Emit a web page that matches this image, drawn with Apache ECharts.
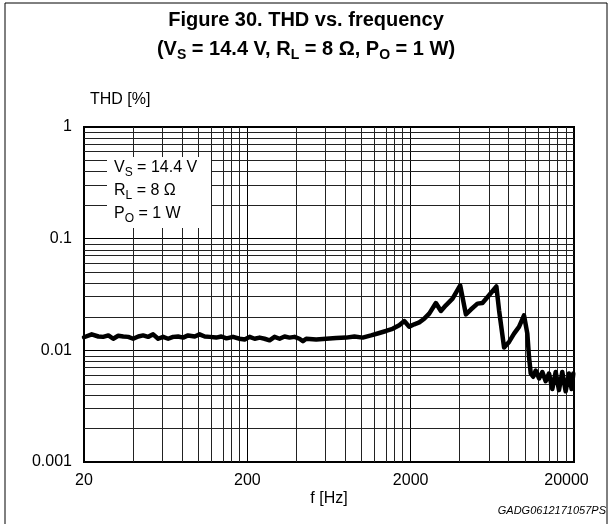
<!DOCTYPE html>
<html>
<head>
<meta charset="utf-8">
<script src="https://cdn.jsdelivr.net/npm/echarts@6/dist/echarts.min.js"></script>
<style>
html,body{margin:0;padding:0;background:#fff;}
#c{width:612px;height:524px;}
</style>
</head>
<body>
<div id="c"></div>
<script>
// ---- data ----
const freqHz = [20, 22.3, 24.5, 26.2, 28.2, 30.2, 32.4, 34.8, 37.3, 40, 43, 46, 49.4, 53, 56.9, 61, 65.5, 70.2, 75.4, 80.9, 86.7, 95.3, 102, 109.7, 117.7, 129, 138.7, 149, 163.4, 179.5, 192.6, 206.6, 221.6, 237.8, 255, 273.7, 293.6, 315, 338, 362.6, 389, 417, 438, 458.6, 528, 607.6, 699.6, 805, 905, 1017, 1144, 1286, 1413, 1550, 1703, 1828, 1960, 2104, 2258, 2422, 2598, 2854, 3063, 3286, 3609, 4021, 4356, 4672, 5130, 5502, 6040, 6697, 6955, 7464, 8005, 8590, 9210, 9885, 10360, 10610, 10870, 11250, 11650, 12220, 12800, 13420, 14060, 14730, 15450, 16180, 16950, 17780, 18620, 19340, 19800];
const thdPct = [0.0131, 0.0139, 0.0133, 0.0132, 0.0136, 0.0127, 0.0135, 0.0133, 0.0132, 0.0127, 0.0133, 0.0136, 0.0132, 0.0139, 0.0127, 0.0132, 0.0127, 0.0132, 0.0133, 0.0130, 0.0136, 0.0133, 0.0139, 0.0133, 0.0132, 0.0130, 0.0133, 0.0128, 0.0132, 0.0127, 0.0125, 0.0132, 0.0127, 0.0130, 0.0127, 0.0123, 0.0132, 0.0127, 0.0133, 0.0130, 0.0132, 0.0127, 0.0121, 0.0127, 0.0125, 0.0127, 0.0129, 0.0130, 0.0133, 0.0130, 0.0136, 0.0143, 0.0149, 0.0156, 0.0168, 0.0183, 0.0163, 0.0171, 0.0178, 0.0192, 0.0213, 0.0265, 0.0225, 0.0253, 0.0290, 0.0382, 0.0210, 0.0232, 0.0262, 0.0265, 0.0311, 0.0373, 0.0228, 0.0106, 0.0119, 0.0141, 0.0162, 0.0206, 0.0141, 0.0087, 0.0062, 0.0058, 0.0066, 0.0056, 0.0064, 0.0053, 0.0062, 0.0045, 0.0064, 0.0044, 0.0064, 0.0043, 0.0062, 0.0045, 0.0062];
const xTickLabels = ['20', '200', '2000', '20000'];
const yTickLabels = ['0.001', '0.01', '0.1', '1'];
const xMin = 20, xDecades = 3;
const yMinExp = -3, yMaxExp = 0;
const minorMultipliers = [2, 3, 4, 5, 6, 7, 8, 9];

// ---- helpers ----
const FONT = "'Liberation Sans', Arial, sans-serif";
const lx = f => Math.log10(f / xMin);
const seriesData = freqHz.map((f, i) => [lx(f), Math.log10(thdPct[i])]);

const minorX = [];
for (let d = 0; d < xDecades; d++) minorMultipliers.forEach(k => minorX.push(d + Math.log10(k)));
const minorY = [];
for (let e = yMinExp; e < yMaxExp; e++) minorMultipliers.forEach(k => minorY.push(e + Math.log10(k)));
const gridLineData = minorX.map(v => ({ xAxis: v })).concat(minorY.map(v => ({ yAxis: v })));

const chart = echarts.init(document.getElementById('c'), null, { renderer: 'canvas' });

const titleRich = {
  t: { fontFamily: FONT, fontSize: 20, fontWeight: 'bold', color: '#000', lineHeight: 26 },
  s: { fontFamily: FONT, fontSize: 14, fontWeight: 'bold', color: '#000', padding: [11, 0, 0, 0], verticalAlign: 'bottom' }
};
const legRich = {
  t: { fontFamily: FONT, fontSize: 16, color: '#000', lineHeight: 22 },
  s: { fontFamily: FONT, fontSize: 12, color: '#000', padding: [9, 0, 0, 0], verticalAlign: 'bottom' }
};

const option = {
  animation: false,
  backgroundColor: '#fff',
  grid: { left: 84, top: 127, right: 38, bottom: 62, show: true, borderColor: '#000', borderWidth: 2, backgroundColor: 'transparent' },
  xAxis: {
    type: 'value', min: 0, max: xDecades, interval: 1,
    axisLine: { show: true, lineStyle: { color: '#000', width: 2 } },
    axisTick: { show: false },
    splitLine: { show: true, lineStyle: { color: '#000', width: 1 } },
    axisLabel: {
      color: '#000', fontFamily: FONT, fontSize: 16, margin: 11,
      formatter: v => {
        const lab = xTickLabels[Math.round(v)];
        return Math.round(v) === xDecades ? '{r|' + lab + '}' : lab;
      },
      rich: { r: { fontFamily: FONT, fontSize: 16, color: '#000', padding: [0, 15, 0, 0] } }
    }
  },
  yAxis: {
    type: 'value', min: yMinExp, max: yMaxExp, interval: 1,
    axisLine: { show: true, lineStyle: { color: '#000', width: 2 } },
    axisTick: { show: false },
    splitLine: { show: true, lineStyle: { color: '#000', width: 1 } },
    axisLabel: {
      color: '#000', fontFamily: FONT, fontSize: 16, margin: 12,
      formatter: v => yTickLabels[Math.round(v - yMinExp)]
    }
  },
  series: [
    {
      type: 'line', data: [], z: 1, silent: true,
      markLine: {
        silent: true, symbol: ['none', 'none'], animation: false,
        label: { show: false },
        lineStyle: { color: '#222', width: 1, type: 'solid' },
        emphasis: { disabled: true },
        data: gridLineData
      }
    },
    {
      type: 'line', data: seriesData, z: 5, showSymbol: false, symbol: 'none',
      smooth: false,
      lineStyle: { color: '#000', width: 4.5, join: 'round', cap: 'round' }
    }
  ],
  graphic: [
    { type: 'rect', z: 0, silent: true, shape: { x: 5, y: 3, width: 602, height: 540 }, style: { fill: 'none', stroke: '#000', lineWidth: 1 } },
    { type: 'text', z: 100, x: 306, y: 20, style: { text: '{t|Figure 30. THD vs. frequency}', rich: titleRich, align: 'center', verticalAlign: 'middle' } },
    { type: 'text', z: 100, x: 306, y: 49, style: { text: '{t|(V}{s|S}{t| = 14.4 V, R}{s|L}{t| = 8 Ω, P}{s|O}{t| = 1 W)}', rich: titleRich, align: 'center', verticalAlign: 'middle' } },
    { type: 'text', z: 100, x: 90, y: 100, style: { text: 'THD [%]', font: '16px ' + FONT, fill: '#000', align: 'left', verticalAlign: 'middle' } },
    { type: 'text', z: 100, x: 329, y: 499, style: { text: 'f [Hz]', font: '16px ' + FONT, fill: '#000', align: 'center', verticalAlign: 'middle' } },
    { type: 'text', z: 100, x: 606, y: 511, style: { text: 'GADG0612171057PS', font: 'italic 11px ' + FONT, fill: '#000', align: 'right', verticalAlign: 'middle' } },
    { type: 'rect', z: 100, silent: true, shape: { x: 107, y: 157, width: 104, height: 71 }, style: { fill: '#fff', stroke: 'none' } },
    { type: 'text', z: 101, x: 114, y: 168, style: { text: '{t|V}{s|S}{t| = 14.4 V}', rich: legRich, align: 'left', verticalAlign: 'middle' } },
    { type: 'text', z: 101, x: 114, y: 191, style: { text: '{t|R}{s|L}{t| = 8 Ω}', rich: legRich, align: 'left', verticalAlign: 'middle' } },
    { type: 'text', z: 101, x: 114, y: 214, style: { text: '{t|P}{s|O}{t| = 1 W}', rich: legRich, align: 'left', verticalAlign: 'middle' } }
  ]
};
chart.setOption(option);
</script>
</body>
</html>
